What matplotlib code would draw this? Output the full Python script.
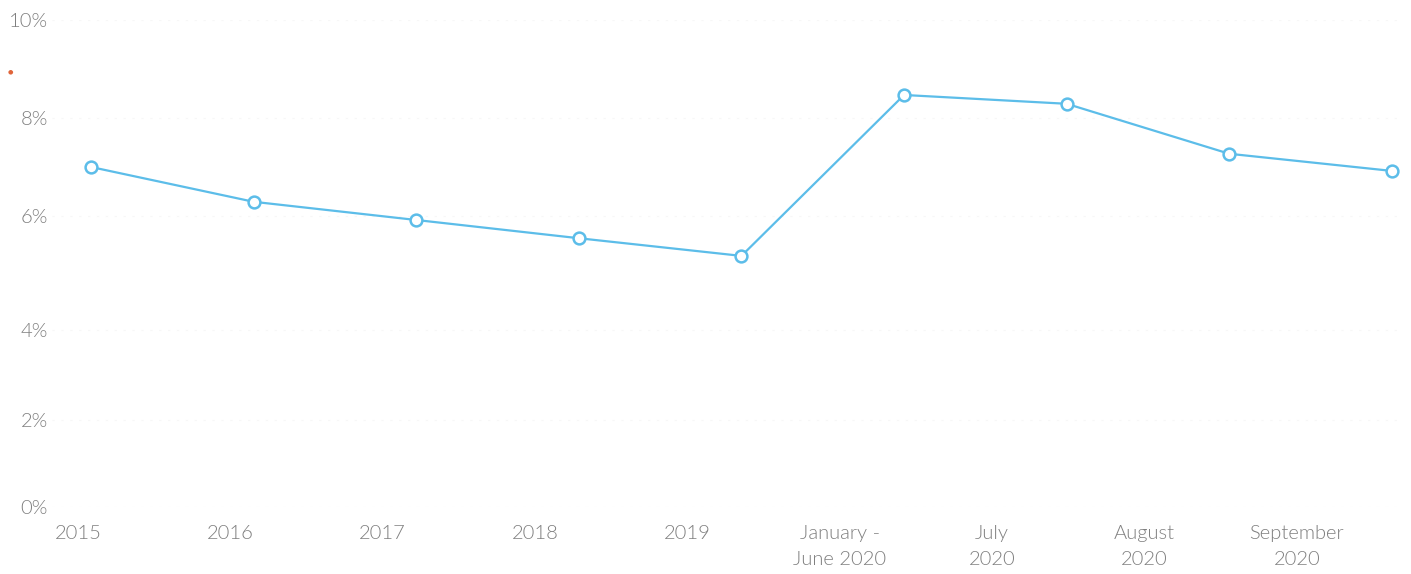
import numpy as np
import matplotlib
matplotlib.use("Agg")
import matplotlib.pyplot as plt

categories = ["2015", "2016", "2017", "2018", "2019",
              "January -\nJune 2020", "July\n2020", "August\n2020", "September\n2020"]
values = [7.0, 6.29, 5.93, 5.61, 5.30, 8.47, 8.29, 7.27, 6.92]
yticks = [0, 2, 4, 6, 8, 10]
ytick_labels = ["0%", "2%", "4%", "6%", "8%", "10%"]

# piecewise scale mimicking the uneven tick spacing of the reference
tick_heights = [0, 87, 177, 291, 389, 487]

def fwd(v):
    return np.interp(v, yticks, tick_heights, left=-1e3, right=1e3)

def inv(h):
    return np.interp(h, tick_heights, yticks)

W, H = 1411, 574
fig = plt.figure(figsize=(W / 100, H / 100), dpi=100)
ax = fig.add_axes([52 / W, (H - 507) / H, (1400 - 52) / W, (507 - 20) / H])

ax.set_yscale("function", functions=(fwd, inv))
x = np.arange(len(categories))
ax.plot(x, values, color="#5cbde9", lw=1.6, marker="o", ms=8.5,
        mfc="white", mec="#5cbde9", mew=1.8, zorder=3, clip_on=False)

ax.set_xlim(-0.24, 8.05)
ax.set_ylim(0, 10)

ax.set_yticks(yticks)
ax.set_yticklabels(ytick_labels)
tick_pos = x * 0.937 - 0.08
ax.set_xticks(tick_pos)
ax.set_xticklabels(categories, linespacing=1.65)

font = "Lato"
for lab in ax.get_xticklabels() + ax.get_yticklabels():
    lab.set_fontfamily(font)
    lab.set_fontweight(300)
    lab.set_fontsize(14.5)
    lab.set_color("#7f7f7f")
ax.tick_params(axis="x", length=0, pad=13)
ax.tick_params(axis="y", length=0, pad=3)

ax.grid(axis="y", color="#f7f7f7", lw=0.8, ls=(0, (2, 6)))
ax.set_axisbelow(True)
for s in ax.spines.values():
    s.set_visible(False)

fig.text(10 / W, 1 - 72 / H, "\u25CF", color="#e0653a", fontsize=4.5,
         ha="center", va="center")

fig.savefig("out.png", dpi=100, facecolor="white")
